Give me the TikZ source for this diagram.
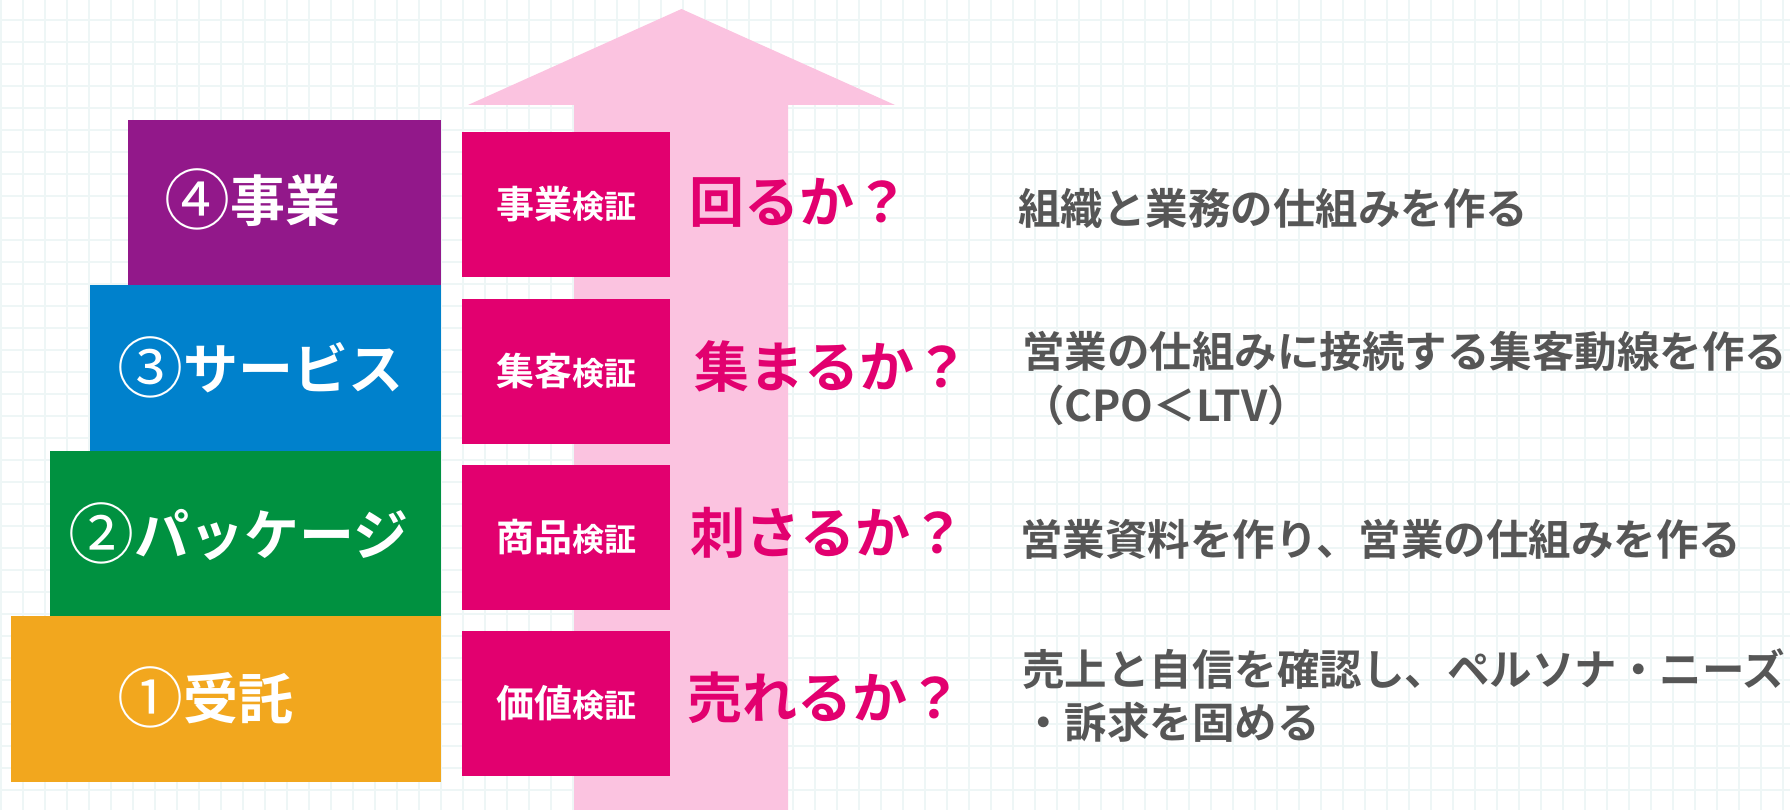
\documentclass[tikz,border=0pt]{standalone}
\usepackage{fontspec}
\setmainfont{Noto Sans CJK JP}[BoldFont={Noto Sans CJK JP Bold}]
\definecolor{gridc}{HTML}{EEF6F6}
\definecolor{arrowpink}{HTML}{FBC3E0}
\definecolor{magentac}{HTML}{E2006F}
\definecolor{purplec}{HTML}{92188A}
\definecolor{bluec}{HTML}{0081CC}
\definecolor{greenc}{HTML}{009140}
\definecolor{orangec}{HTML}{F2A71E}
\definecolor{grayc}{HTML}{565656}
\newcommand{\circnum}[1]{\raisebox{-0.04em}{\scalebox{1.2}{\mdseries #1}}}
\begin{document}
\begin{tikzpicture}[x=1pt,y=-1pt,
  blk/.style={anchor=north west, inner sep=0pt, outer sep=0pt, minimum height=#1},
  stage/.style={text=white, inner sep=0pt, font=\bfseries\fontsize{55}{55}\selectfont},
  vbox/.style={anchor=north west, inner sep=0pt, outer sep=0pt, fill=magentac, minimum width=208pt, minimum height=145pt},
  vtext/.style={text=white, inner sep=0pt, font=\bfseries},
  quest/.style={anchor=west, text=magentac, inner sep=0pt, font=\bfseries\fontsize{55}{55}\selectfont},
  desc/.style={anchor=west, text=grayc, inner sep=0pt, font=\bfseries\fontsize{42.5}{42.5}\selectfont}]
\useasboundingbox (0,0) rectangle (1790,810);
\fill[white] (0,0) rectangle (1790,810);
\foreach \i in {0,...,81} \draw[gridc, line width=2.3pt] ({1+22*\i},0) -- ({1+22*\i},810);
\foreach \j in {0,...,35} \draw[gridc, line width=2.3pt] (0,{20+22*\j}) -- (1790,{20+22*\j});
% big arrow
\fill[arrowpink] (574,810) -- (574,105) -- (468,105) -- (681.5,9) -- (895,105) -- (788,105) -- (788,810) -- cycle;
% stage blocks
\node[blk=165pt, fill=purplec, minimum width=313pt] (s4) at (128,120) {};
\node[blk=166pt, fill=bluec, minimum width=351pt] (s3) at (90,285) {};
\node[blk=165pt, fill=greenc, minimum width=391pt] (s2) at (50,451) {};
\node[blk=166pt, fill=orangec, minimum width=430pt] (s1) at (11,616) {};
\node[stage] (l4) at (252,199) {\circnum{④}事業};
\node[stage] (l3) at (260,367) {\circnum{③}サービス};
\node[stage] (l2) at (238,533) {\circnum{②}パッケージ};
\node[stage] (l1) at (205,697) {\circnum{①}受託};
% verification boxes
\node[vbox] (v4) at (462,132) {};
\node[vbox] (v3) at (462,299) {};
\node[vbox] (v2) at (462,465) {};
\node[vbox] (v1) at (462,631) {};
\newcommand{\vlabel}[1]{{\fontsize{38}{38}\selectfont #1}{\fontsize{32}{32}\selectfont 検証}}
\node[vtext] (t4) at (v4.center) {\vlabel{事業}};
\node[vtext] (t3) at (v3.center) {\vlabel{集客}};
\node[vtext] (t2) at (v2.center) {\vlabel{商品}};
\node[vtext] (t1) at (v1.center) {\vlabel{価値}};
% questions
\node[quest] (q4) at (689,203) {回るか？};
\node[quest] (q3) at (694,367) {集まるか？};
\node[quest] (q2) at (690,533) {刺さるか？};
\node[quest] (q1) at (687,698) {売れるか？};
% descriptions
\node[desc] (d4) at (1018,208) {組織と業務の仕組みを作る};
\node[desc] (d3a) at (1022,351) {営業の仕組みに接続する集客動線を作る};
\node[desc] (d3b) at (1022,405) {（CPO＜LTV）};
\node[desc] (d2) at (1020,539) {営業資料を作り、営業の仕組みを作る};
\node[desc] (d1a) at (1022,669) {売上と自信を確認し、ペルソナ・ニーズ};
\node[desc] (d1b) at (1022,722) {・訴求を固める};
\end{tikzpicture}
\end{document}
